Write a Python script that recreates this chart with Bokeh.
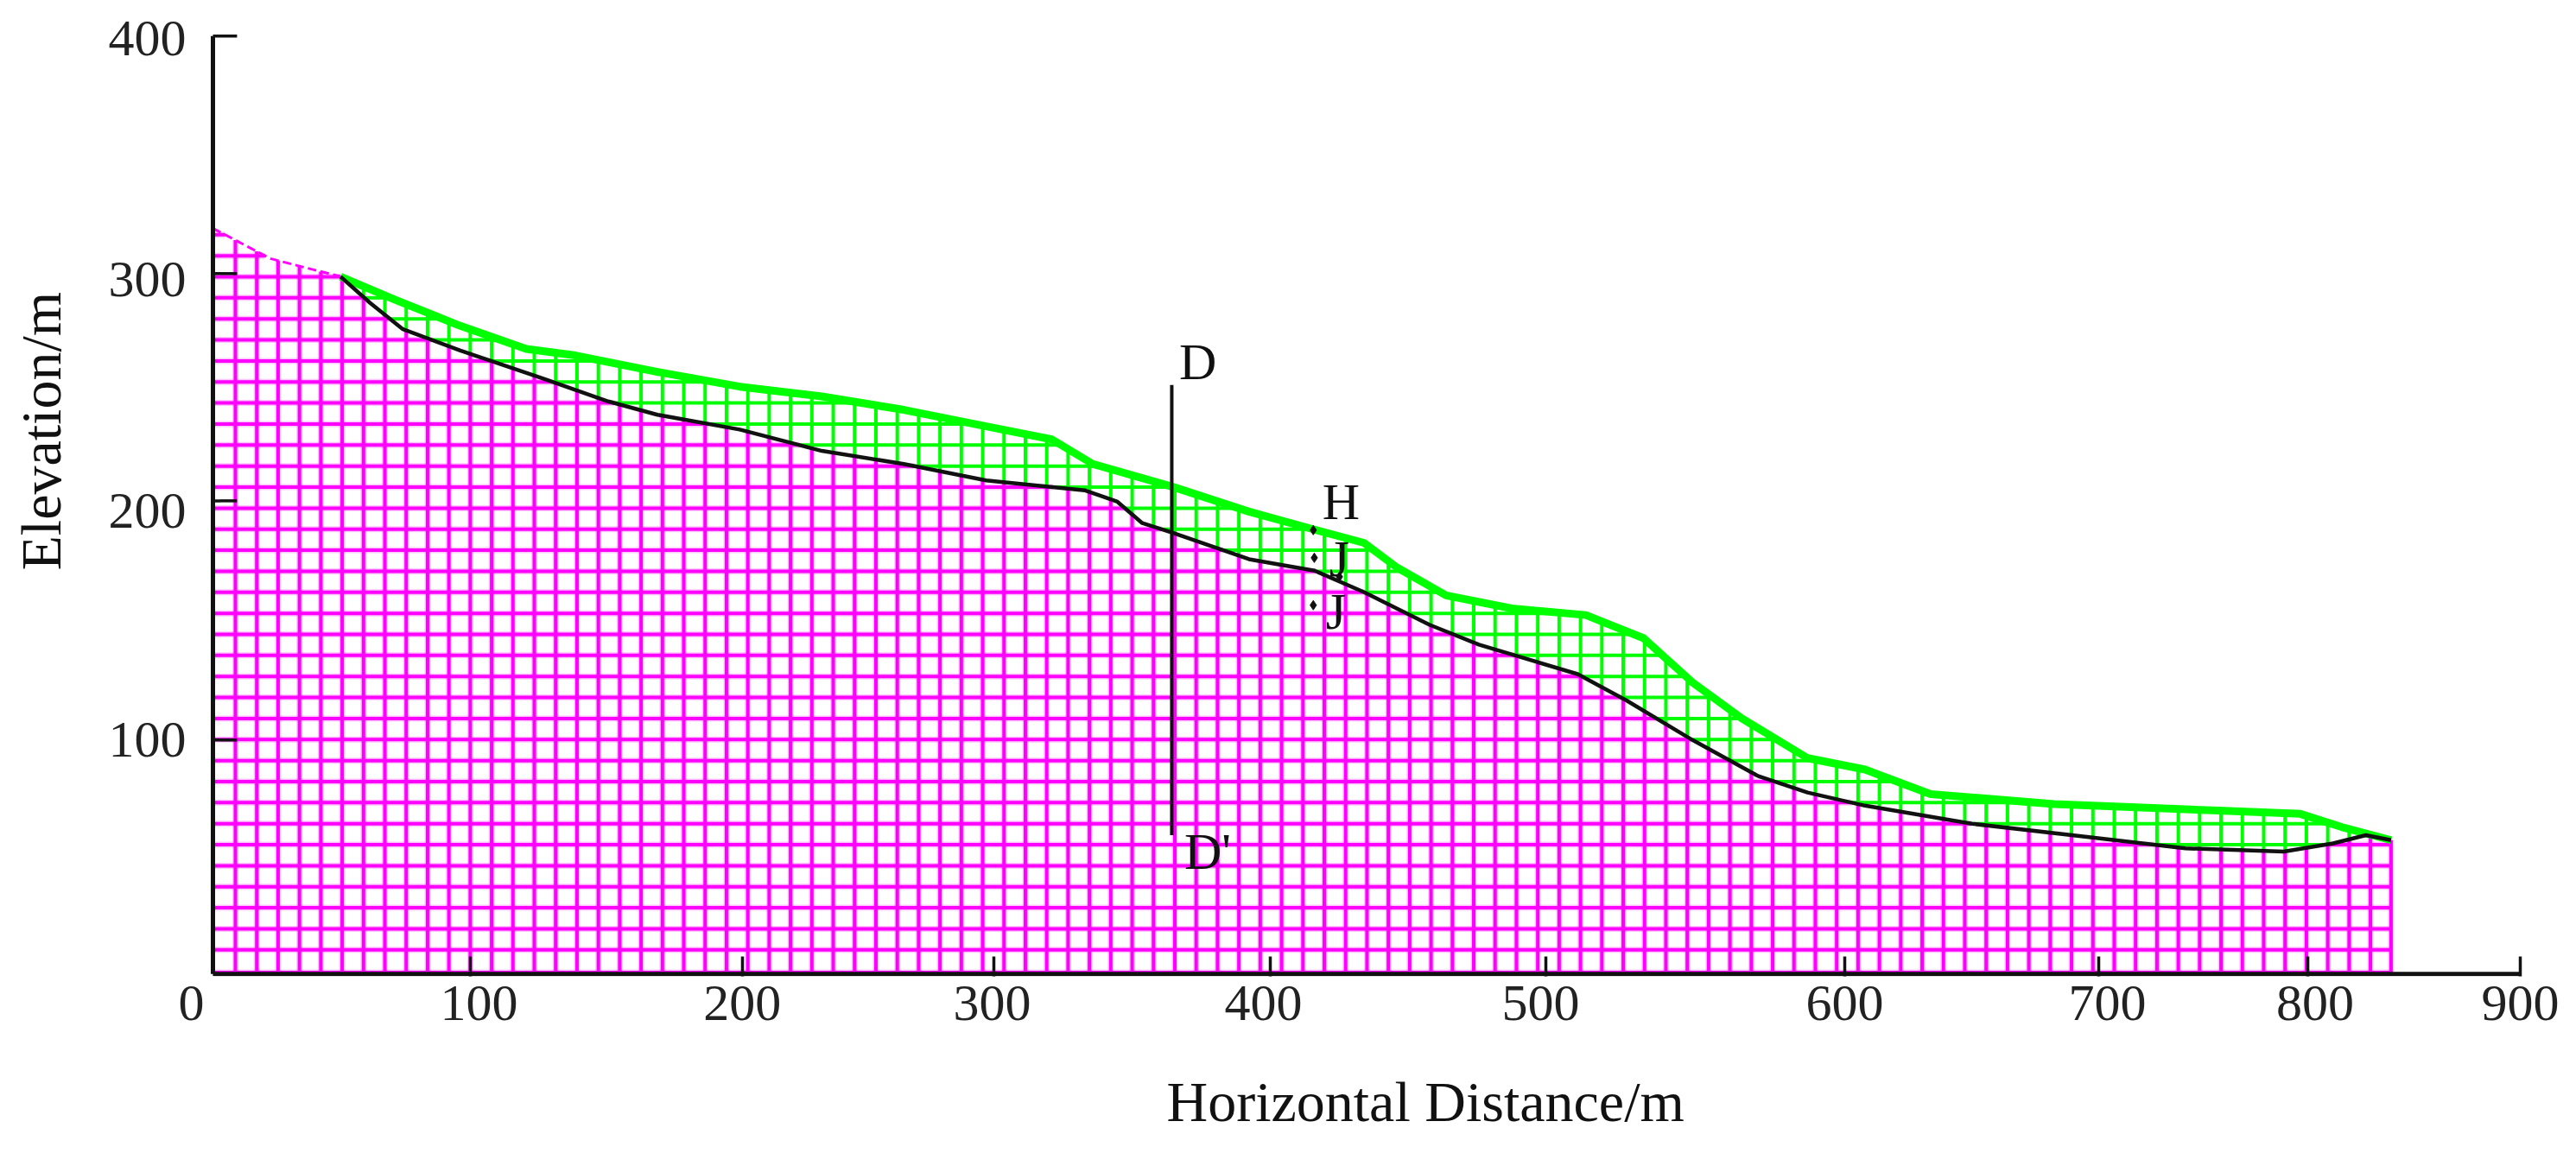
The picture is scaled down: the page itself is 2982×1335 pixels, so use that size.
import numpy as np
from bokeh.plotting import figure
from bokeh.models import FixedTicker, Range1d, Title
from bokeh.embed import file_html
from bokeh.resources import INLINE

# Values (x in axis units, y in elevation units)
surface_x = [49.8, 70.9, 96.5, 122.2, 141.4, 173.4, 205.5, 237.5, 269.5, 301.6, 327.2, 343.2, 374.6, 404.1, 429.7, 448.9,
             461.8, 481.0, 506.6, 535.5, 557.9, 577.1, 596.4, 622.0, 644.4, 670.0, 718.1, 750.2, 782.2, 814.2, 830.3, 849.6]
surface_y = [297.4, 287.6, 276.4, 266.6, 263.8, 256.8, 250.5, 246.3, 240.6, 233.6, 228.0, 217.5, 207.7, 197.2, 189.5, 183.9,
             173.4, 161.5, 155.9, 153.1, 143.3, 124.4, 109.0, 92.1, 87.2, 76.7, 72.5, 71.1, 69.7, 68.3, 62.7, 57.1]
bed_x = [49.8, 61.3, 74.1, 96.5, 128.6, 154.2, 173.4, 205.5, 237.5, 269.5, 301.6, 340.0, 352.8, 362.5, 374.6, 404.1, 429.7,
         448.9, 474.6, 493.8, 532.3, 551.5, 577.1, 602.8, 622.0, 644.4, 686.1, 731.0, 769.4, 807.8, 827.0, 839.8, 849.6]
bed_y = [297.4, 286.2, 275.0, 265.9, 254.0, 244.2, 238.5, 232.2, 223.1, 217.5, 210.5, 206.3, 201.4, 192.3, 188.1, 176.9, 172.0,
         162.9, 148.9, 140.5, 127.9, 116.6, 99.8, 84.4, 77.4, 71.8, 64.1, 58.5, 53.6, 52.2, 55.7, 59.2, 57.1]
slope_x = [0.0, 22.4, 49.8]
slope_y = [318.0, 305.1, 297.4]

section_x = [374.0, 374.0]
section_y = [59.2, 251.2]
point_x = [429.2, 429.6, 429.2, 439.4]
point_y = [189.3, 177.5, 157.3, 169.4]
note_text = ["D", "D'", "H", "J", "J"]
note_x = [384.2, 388.0, 440.0, 439.4, 438.0]
note_y = [261.0, 52.2, 201.5, 176.9, 154.5]

x_tick_marks = [100.4, 206.5, 304.6, 412.4, 519.9, 636.5, 735.5, 817.0, 900.0]
x_label_pos = [-8.4, 103.8, 206.5, 303.9, 409.7, 517.9, 636.5, 738.9, 820.0, 900.0]
x_labels = ["0", "100", "200", "300", "400", "500", "600", "700", "800", "900"]
y_tick_marks = [99.8, 201.8, 298.7, 400.0]
y_label_pos = [99.8, 197.4, 296.1, 398.9]
y_labels = ["100", "200", "300", "400"]
axis_x = [0.0, 900.0]
axis_y = [0.0, 400.0]
y_tick_length = 9.4

# Spacing of the hatch texture
hatch_x0, hatch_dx, hatch_nx = 8.76, 8.328, 101
hatch_y0, hatch_dy, hatch_ny = 10.3, 8.97, 36

MAGENTA, GREEN = "#ff00ff", "#00ff00"
SERIF = "Liberation Serif"

lower_x = np.array(slope_x[:-1] + bed_x)
lower_y = np.array(slope_y[:-1] + bed_y)
dense = np.linspace(0, surface_x[-1], 6000)
low = np.interp(dense, lower_x, lower_y)
up = np.interp(dense, surface_x, surface_y, left=np.nan)


def runs(mask):
    edges = np.flatnonzero(np.diff(np.r_[0, mask.astype(int), 0]))
    return [(dense[a], dense[b - 1]) for a, b in zip(edges[::2], edges[1::2])]


vx = hatch_x0 + hatch_dx * np.arange(hatch_nx)
levels = hatch_y0 + hatch_dy * np.arange(hatch_ny)

m_seg, g_seg = [], []
for x in vx:
    l = np.interp(x, lower_x, lower_y)
    m_seg.append((x, 0, x, l))
    if x >= surface_x[0]:
        g_seg.append((x, l, x, np.interp(x, surface_x, surface_y)))
m_seg.append((surface_x[-1], 0, surface_x[-1], surface_y[-1]))
for level in levels:
    for a, b in runs(low >= level):
        m_seg.append((a, level, b, level))
    for a, b in runs((low <= level) & (up >= level)):
        g_seg.append((a, level, b, level))
m_seg.append((0, 0.7, surface_x[-1], 0.7))
m = np.array(m_seg)
g = np.array(g_seg)

p = figure(width=2966, height=1319, output_backend="svg", toolbar_location=None,
           x_range=Range1d(-9.1, 900), y_range=Range1d(-1, 401.2),
           min_border_left=219, min_border_right=49, min_border_top=38, min_border_bottom=189)
p.background_fill_color = "white"
p.border_fill_color = "white"
p.outline_line_color = None
p.grid.visible = False

p.segment(m[:, 0], m[:, 1], m[:, 2], m[:, 3], line_color=MAGENTA, line_width=7, line_alpha=0.22)
p.segment(m[:, 0], m[:, 1], m[:, 2], m[:, 3], line_color=MAGENTA, line_width=4)
p.segment(g[:, 0], g[:, 1], g[:, 2], g[:, 3], line_color=GREEN, line_width=4)
p.line(slope_x, slope_y, line_color=MAGENTA, line_width=3, line_dash=[10, 5])
p.line(surface_x, surface_y, line_color=GREEN, line_width=9, line_join="round")
p.line(bed_x, bed_y, line_color="#111111", line_width=4.5)
p.line(section_x, section_y, line_color="#111111", line_width=4)
# axis lines and the y tick marks stand at x = 0, to the right of the "0" label
p.line(axis_x, [0, 0], line_color="#111111", line_width=5)
p.line([0, 0], axis_y, line_color="#111111", line_width=5)
p.segment([0] * len(y_tick_marks), y_tick_marks, [y_tick_length] * len(y_tick_marks), y_tick_marks,
          line_color="#111111", line_width=3.5)
p.scatter(point_x, point_y, marker="diamond", size=11, color="#111111")
p.text(note_x, note_y, text=note_text, text_font=SERIF, text_font_size="60px", text_color="#111111",
       text_align="center", text_baseline="middle")

for ax in (p.xaxis[0], p.yaxis[0]):
    ax.axis_line_color = None
    ax.major_tick_line_color = None
    ax.major_tick_in = 0
    ax.major_tick_out = 0
    ax.minor_tick_line_color = "#111111"
    ax.minor_tick_line_width = 3.5
    ax.minor_tick_out = 0
    ax.major_label_text_font = SERIF
    ax.major_label_text_font_size = "60px"
    ax.major_label_text_color = "#222222"

p.xaxis[0].ticker = FixedTicker(ticks=x_label_pos, minor_ticks=x_tick_marks)
p.xaxis[0].major_label_overrides = dict(zip(x_label_pos, x_labels))
p.xaxis[0].minor_tick_in = 23
p.xaxis[0].major_label_standoff = 11

p.yaxis[0].ticker = FixedTicker(ticks=y_label_pos)
p.yaxis[0].major_label_overrides = dict(zip(y_label_pos, y_labels))
p.yaxis[0].minor_tick_line_color = None
p.yaxis[0].major_label_standoff = 4

titles = dict(text_font=SERIF, text_font_size="66px", text_font_style="normal", text_color="#111111", align="left", standoff=0)
# blank titles only hold the gap between the tick labels and the axis titles
p.add_layout(Title(text=" ", text_font_size="45px", standoff=0), "below")
p.add_layout(Title(text="Horizontal Distance/m", offset=1131, **titles), "below")
p.add_layout(Title(text=" ", text_font_size="33px", standoff=0), "left")
p.add_layout(Title(text="Elevation/m", offset=470, **titles), "left")

open("out.html", "w").write(file_html(p, INLINE))
